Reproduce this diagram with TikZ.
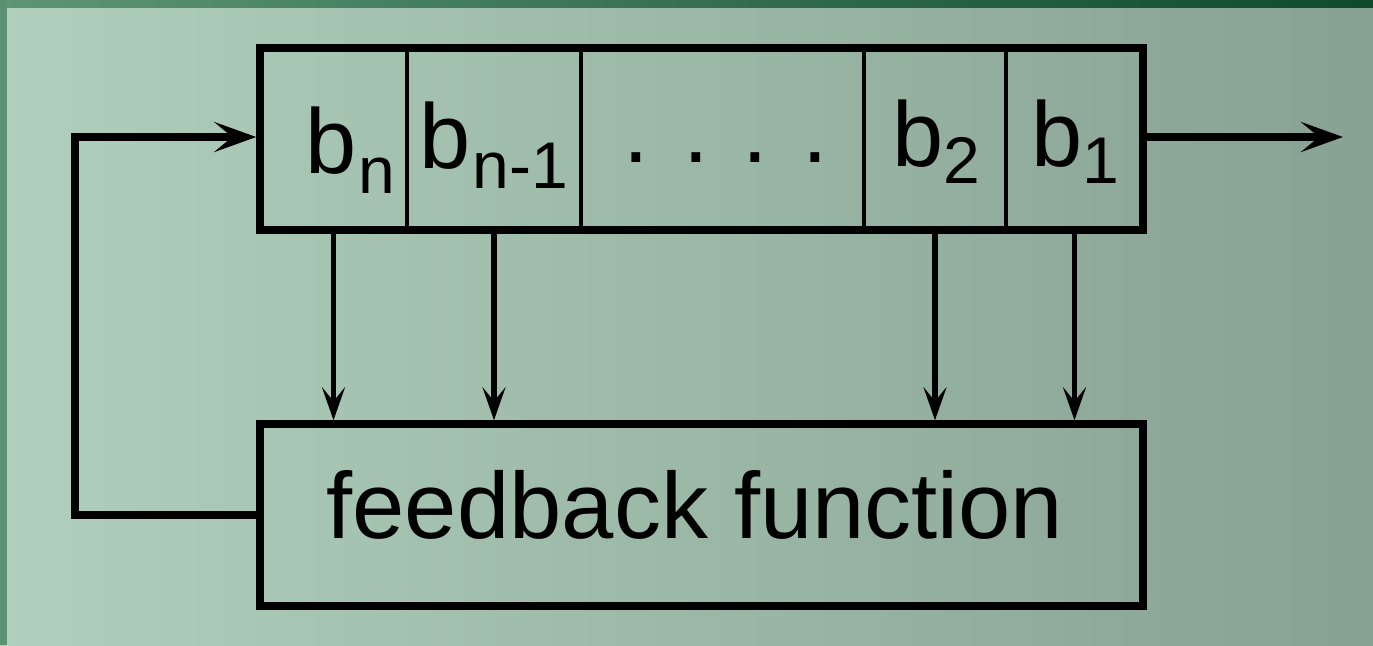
\documentclass[tikz,border=0pt]{standalone}
\usepackage{fontspec}
\setmainfont{Liberation Sans}
\usetikzlibrary{arrows.meta,calc}
\definecolor{bgL}{HTML}{B0CFBC}
\definecolor{bgM}{HTML}{9DBFA9}
\definecolor{bgR}{HTML}{87A192}
\definecolor{topL}{HTML}{5E9675}
\definecolor{topR}{HTML}{0E4A2B}
\definecolor{sideG}{HTML}{5A9172}
\newcommand{\bigtxt}{\fontsize{46pt}{50pt}\selectfont}
\newcommand{\subtxt}{\fontsize{33pt}{36pt}\selectfont}
\begin{document}
\begin{tikzpicture}[x=0.5pt,y=-0.5pt,
  regbox/.style={draw=black, line width=3.75pt, inner sep=0pt, minimum width=883*0.5pt, minimum height=182*0.5pt},
  cell/.style={draw=none, inner sep=0pt, outer sep=0pt, minimum height=182*0.5pt},
  divider/.style={draw=black, line width=2pt},
  thickarrow/.style={draw=black, line width=3.75pt, -{Stealth[length=21pt,width=15pt,inset=9pt]}},
  thickline/.style={draw=black, line width=3.75pt},
  vertarrow/.style={draw=black, line width=2.75pt, -{Stealth[length=16.5pt,width=11.5pt,inset=7pt]}},
  label/.style={inner sep=0pt, outer sep=0pt, anchor=base}]
\useasboundingbox (0,0) rectangle (1373,645);
% background
\shade[left color=bgL, middle color=bgM, right color=bgR] (0,0) rectangle (1373,645);
\shade[left color=topL, right color=topR] (0,0) rectangle (1373,7);
\fill[sideG] (0,0) rectangle (7,645);
% register
\node[regbox] (reg) at (701.5,139) {};
\node[cell, minimum width=147*0.5pt] (c1) at (333.5,139) {};
\node[cell, minimum width=174*0.5pt] (c2) at (494,139) {};
\node[cell, minimum width=283*0.5pt] (c3) at (722.5,139) {};
\node[cell, minimum width=142*0.5pt] (c4) at (935,139) {};
\node[cell, minimum width=137*0.5pt] (c5) at (1074.5,139) {};
\draw[divider] (c1.north east) -- (c1.south east);
\draw[divider] (c2.north east) -- (c2.south east);
\draw[divider] (c3.north east) -- (c3.south east);
\draw[divider] (c4.north east) -- (c4.south east);
% labels
\node[label] (t1) at (350,173) {\bigtxt b\kern1pt\raisebox{-10pt}{\subtxt n}};
\node[label] (t2) at (494,168) {\bigtxt b\kern1pt\raisebox{-10pt}{\subtxt n-1}};
\node[label] (t3) at (726,162) {\bigtxt . . . .};
\node[label] (t4) at (936,166) {\bigtxt b\raisebox{-8.5pt}{\subtxt 2}};
\node[label] (t5) at (1075,166) {\bigtxt b\raisebox{-8.5pt}{\subtxt 1}};
% feedback box
\node[regbox] (fb) at (701.5,515) {};
\node[label] (ft) at (695,538) {\fontsize{47pt}{50pt}\selectfont feedback function};
% connectors
\draw[vertarrow] (c1.south) -- (c1.south |- fb.north);
\draw[vertarrow] (c2.south) -- (c2.south |- fb.north);
\draw[vertarrow] (c4.south) -- (c4.south |- fb.north);
\draw[vertarrow] (c5.south) -- (c5.south |- fb.north);
\coordinate (lp1) at (75,515);
\coordinate (lp2) at (75,137);
\coordinate (out) at (1343,137);
\draw[thickline] (fb.west) -- (lp1);
\draw[thickarrow, line join=miter] ($(lp1)+(0,3.75)$) -- (lp2) -- (reg.west |- lp2);
\draw[thickarrow] (reg.east |- out) -- (out);
\end{tikzpicture}
\end{document}
